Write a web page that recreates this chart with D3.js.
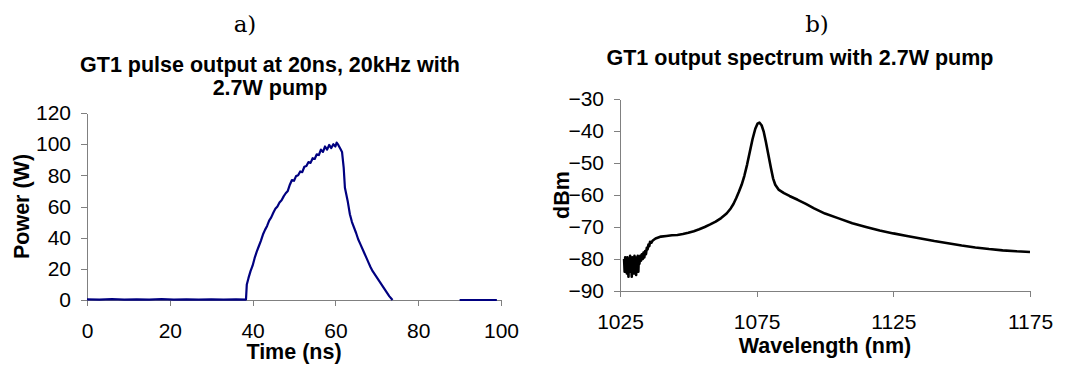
<!DOCTYPE html>
<html>
<head>
<meta charset="utf-8">
<script src="https://cdn.jsdelivr.net/npm/d3@7"></script>
<style>
  html, body { margin: 0; padding: 0; background: #fff; }
  svg { display: block; }
  text { font-family: "Liberation Sans", Arial, sans-serif; fill: #000; }
  .axis path, .axis line { stroke: #808080; stroke-width: 1; shape-rendering: crispEdges; }
  .axis text { font-size: 21px; }
  .title { font-size: 21.5px; font-weight: bold; }
  .alabel { font-size: 21.5px; font-weight: bold; }
  .panel { font-family: "DejaVu Serif", "Liberation Serif", serif; font-size: 23px; }
</style>
</head>
<body>
<svg id="fig" width="1082" height="367"></svg>
<script>
// Panel a: pulse waveform (time in ns, power in W)
const pulseTime = [0, 3, 6, 9, 12, 15, 18, 21, 24, 27, 30, 33, 36, 38.4,
  38.6, 39, 39.5, 40, 40.5, 41, 41.5, 42, 42.5, 43, 43.5, 44, 44.5, 45, 45.5, 46,
  46.5, 47, 47.5, 48, 48.5, 49, 49.5, 50, 50.5, 51, 51.5, 52, 52.5, 53, 53.5,
  54, 54.5, 55, 55.5, 56, 56.5, 57, 57.5, 58, 58.5, 59, 59.5, 60, 60.3, 60.7,
  61.2, 61.6, 62, 62.3, 63, 63.5, 64, 65, 65.5, 66, 67, 67.5, 68, 68.5, 69, 70,
  71, 72, 73, 73.8, 80, 90, 99];
const pulsePower = [0.4, 0.2, 0.5, 0.3, 0.4, 0.2, 0.5, 0.3, 0.4, 0.2, 0.4, 0.3, 0.4, 0.3,
  10, 14, 18.5, 22, 27, 31, 34.5, 38, 42, 45, 47.5, 51, 53, 56, 58.5, 60,
  62.5, 64, 66.5, 68.5, 70, 74, 77, 76.5, 79.5, 80, 82.5, 82, 85.5, 86, 88.5,
  88, 91, 90.5, 93.5, 93, 96.5, 95, 98.5, 96.5, 99.5, 97.5, 100, 98.5, 101, 99.5,
  97, 95, 85, 72, 63, 55, 50, 43, 39, 36, 30, 27, 24, 21, 18.5, 14.5,
  10.5, 6.5, 2.5, 0, null, 0, 0];
const timeTicks = [0, 20, 40, 60, 80, 100];
const powerTicks = [0, 20, 40, 60, 80, 100, 120];

// Panel b: optical spectrum (wavelength in nm, level in dBm)
const wavelength = [1026.5, 1026.7, 1026.9, 1027.1, 1027.3, 1027.5, 1027.7, 1027.9,
  1028.1, 1028.3, 1028.5, 1028.7, 1028.9, 1029.1, 1029.3, 1029.5, 1029.7, 1029.9,
  1030.1, 1030.3, 1030.5, 1030.7, 1030.9, 1031.1, 1031.3, 1031.5, 1031.7, 1031.9,
  1032.1, 1032.4, 1032.7, 1033, 1033.3, 1033.6, 1033.9, 1034.2, 1034.5, 1034.8,
  1035.1, 1035.4, 1035.7, 1036, 1036.5, 1037, 1038, 1039,
  1040, 1042, 1044, 1046, 1048, 1050, 1052, 1054, 1056, 1058, 1060, 1062, 1064,
  1065.5, 1066.5, 1067.5, 1068.5, 1069.5, 1070.5, 1071.5, 1072.5, 1073.5, 1074.5,
  1075.3, 1076, 1076.8, 1077.6, 1078.4, 1079.3, 1080.2, 1081, 1081.8, 1083,
  1085, 1087, 1090, 1093, 1096, 1100, 1105, 1110, 1115, 1120, 1125, 1130, 1135,
  1140, 1145, 1150, 1155, 1160, 1165, 1170, 1175];
const level = [-80, -84, -79.5, -83, -81, -84.5, -79.5, -82,
  -85.5, -80, -83, -79, -84, -81, -85.5, -79.5, -82, -80,
  -84.5, -79, -82.5, -79.5, -85, -80, -83, -79, -84, -79.5,
  -81.5, -79, -80.5, -78.5, -80, -78, -79.5, -77.5, -78.5, -76.5,
  -77, -75.5, -76, -74.6, -74.9, -74.2, -73.6, -73.3,
  -73, -72.8, -72.6, -72.5, -72.2, -71.8, -71.3, -70.7, -70, -69.2, -68.3, -67.2, -65.8,
  -64.2, -62.8, -61, -59, -56.8, -54, -50.5, -46.5, -42.5, -39.3,
  -37.7, -37.4, -38.2, -40.3, -43.5, -47.5, -51.5, -54.8, -56.8, -58.3,
  -59.4, -60.3, -61.5, -62.8, -64.2, -65.8, -67.3, -68.8, -70, -71.1, -72, -72.8, -73.6,
  -74.4, -75.1, -75.8, -76.4, -76.9, -77.3, -77.6, -77.8];
const wlTicks = [1025, 1075, 1125, 1175];
const dbTicks = [-90, -80, -70, -60, -50, -40, -30];

const svg = d3.select("#fig");
const fmt = d3.format("d");

function panel(opts) {
  const x = d3.scaleLinear().domain(opts.xDomain).range(opts.xRange);
  const y = d3.scaleLinear().domain(opts.yDomain).range(opts.yRange);

  svg.append("g").attr("class", "axis")
    .attr("transform", `translate(${opts.xRange[0]},0)`)
    .call(d3.axisLeft(y).tickValues(opts.yTicks).tickFormat(fmt)
      .tickSize(6).tickPadding(10).tickSizeOuter(0));

  svg.append("g").attr("class", "axis")
    .attr("transform", `translate(0,${opts.yRange[0]})`)
    .call(d3.axisBottom(x).tickValues(opts.xTicks).tickFormat(fmt)
      .tickSize(6).tickPadding(17).tickSizeOuter(0));

  const pts = opts.xs.map((v, i) => [v, opts.ys[i]]);
  svg.append("path")
    .datum(pts)
    .attr("fill", "none")
    .attr("stroke", opts.color)
    .attr("stroke-width", opts.width)
    .attr("stroke-linejoin", "round")
    .attr("d", d3.line().defined(d => d[1] !== null).x(d => x(d[0])).y(d => y(d[1])));

  const cx = (opts.xRange[0] + opts.xRange[1]) / 2;
  const cy = (opts.yRange[0] + opts.yRange[1]) / 2;
  svg.append("text").attr("class", "alabel").attr("text-anchor", "middle")
    .attr("x", cx).attr("y", opts.xLabelY).text(opts.xLabel);
  svg.append("text").attr("class", "alabel").attr("text-anchor", "middle")
    .attr("transform", `translate(${opts.yLabelX},${cy}) rotate(-90)`)
    .attr("dy", "0.35em").text(opts.yLabel);

  opts.title.forEach((t, i) => {
    svg.append("text").attr("class", "title").attr("text-anchor", "middle")
      .attr("x", opts.titleX).attr("y", opts.titleY + i * 23).text(t);
  });
  svg.append("text").attr("class", "panel").attr("text-anchor", "middle")
    .attr("x", opts.tagX).attr("y", 32).text(opts.tag);
}

panel({
  xDomain: [0, 100], xRange: [87, 501],
  yDomain: [0, 120], yRange: [300, 113],
  xTicks: timeTicks, yTicks: powerTicks,
  xs: pulseTime, ys: pulsePower, color: "#000080", width: 2.2,
  xLabel: "Time (ns)", xLabelY: 359,
  yLabel: "Power (W)", yLabelX: 21,
  title: ["GT1 pulse output at 20ns, 20kHz with", "2.7W pump"], titleX: 270, titleY: 72,
  tag: "a)", tagX: 245
});

panel({
  xDomain: [1025, 1175], xRange: [620, 1030],
  yDomain: [-90, -30], yRange: [291, 99],
  xTicks: wlTicks, yTicks: dbTicks,
  xs: wavelength, ys: level, color: "#000", width: 2.6,
  xLabel: "Wavelength (nm)", xLabelY: 353,
  yLabel: "dBm", yLabelX: 561,
  title: ["GT1 output spectrum with 2.7W pump"], titleX: 800, titleY: 65,
  tag: "b)", tagX: 817
});
</script>
</body>
</html>
